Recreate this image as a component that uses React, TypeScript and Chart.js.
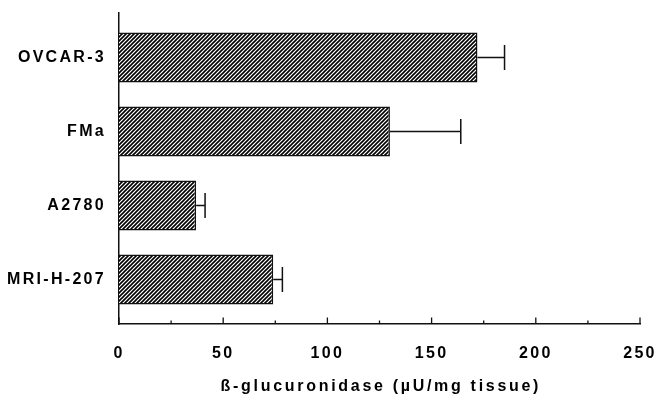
import React, { useEffect, useRef } from 'react';
import { Chart, registerables } from 'chart.js';

Chart.register(...registerables);

const categories = ['OVCAR-3', 'FMa', 'A2780', 'MRI-H-207'];
const values = [172, 130, 37, 74];
const errors = [13, 34, 4.3, 4.4];
const majorTicks = [0, 50, 100, 150, 200, 250];
const minorTicks = [25, 75, 125, 175, 225];
const axisTitle = 'ß-glucuronidase (µU/mg tissue)';

const FONT = "'Liberation Sans', Arial, Helvetica, sans-serif";
const INK = '#111';

function makePattern(ctx: CanvasRenderingContext2D) {
  const c = document.createElement('canvas');
  c.width = 4;
  c.height = 4;
  const g = c.getContext('2d')!;
  g.fillStyle = '#fff';
  g.fillRect(0, 0, 4, 4);
  g.strokeStyle = '#000';
  g.lineWidth = 1.6;
  g.beginPath();
  g.moveTo(-1, 5);
  g.lineTo(5, -1);
  g.moveTo(-1, 1);
  g.lineTo(1, -1);
  g.moveTo(3, 5);
  g.lineTo(5, 3);
  g.stroke();
  return ctx.createPattern(c, 'repeat');
}

const customPlugin = {
  id: 'customDecor',
  beforeDraw(chart: any) {
    (chart.ctx as any).letterSpacing = '2.3px';
  },
  afterDatasetsDraw(chart: any) {
    const ctx = chart.ctx as CanvasRenderingContext2D;
    const xs = chart.scales.x;
    const meta = chart.getDatasetMeta(0);
    ctx.save();
    ctx.strokeStyle = INK;
    ctx.lineWidth = 1.5;
    meta.data.forEach((bar: any, i: number) => {
      const x0 = xs.getPixelForValue(values[i]);
      const x1 = xs.getPixelForValue(values[i] + errors[i]);
      const y = bar.y;
      const h = bar.height / 4;
      ctx.beginPath();
      ctx.moveTo(x0, y);
      ctx.lineTo(x1, y);
      ctx.moveTo(x1, y - h);
      ctx.lineTo(x1, y + h);
      ctx.stroke();
    });
    const yb = chart.chartArea.bottom;
    ctx.lineWidth = 1.3;
    ctx.beginPath();
    majorTicks.forEach((v) => {
      const px = xs.getPixelForValue(v);
      ctx.moveTo(px, yb);
      ctx.lineTo(px, yb - 6.5);
    });
    minorTicks.forEach((v) => {
      const px = xs.getPixelForValue(v);
      ctx.moveTo(px, yb);
      ctx.lineTo(px, yb - 3.5);
    });
    ctx.stroke();
    ctx.restore();
  },
  afterDraw(chart: any) {
    const ctx = chart.ctx as CanvasRenderingContext2D;
    const area = chart.chartArea;
    ctx.save();
    (ctx as any).letterSpacing = '2.7px';
    ctx.font = `bold 16px ${FONT}`;
    ctx.fillStyle = '#000';
    ctx.textAlign = 'center';
    ctx.textBaseline = 'alphabetic';
    ctx.fillText(axisTitle, (area.left + area.right) / 2 + 1.35, 391);
    ctx.restore();
  },
};

export default function App() {
  const ref = useRef<HTMLCanvasElement>(null);

  useEffect(() => {
    const canvas = ref.current!;
    const ctx = canvas.getContext('2d')!;
    const pattern = makePattern(ctx);
    const chart = new Chart(canvas, {
      type: 'bar',
      data: {
        datasets: [
          {
            data: values.map((v, i) => ({ x: v, y: i })),
            backgroundColor: pattern as any,
            borderColor: INK,
            borderWidth: 1.5,
            barPercentage: 0.675,
            categoryPercentage: 1,
          },
        ],
      },
      options: {
        indexAxis: 'y',
        animation: false,
        responsive: false,
        events: [],
        layout: { padding: { top: 13, right: 17, left: 0, bottom: 0 } },
        plugins: { legend: { display: false }, tooltip: { enabled: false } },
        scales: {
          x: {
            type: 'linear',
            min: 0,
            max: 250,
            grid: { display: false },
            border: { display: true, color: INK, width: 1.5 },
            ticks: {
              stepSize: 50,
              padding: 12,
              color: '#000',
              font: { family: FONT, size: 16, weight: 'bold' },
            },
            afterFit: (s: any) => {
              s.height = 75;
              s.paddingLeft = 0;
              s.paddingRight = 0;
            },
          },
          y: {
            type: 'linear',
            reverse: true,
            offset: false,
            bounds: 'data',
            min: -0.6,
            max: 3.6,
            grid: { display: false, offset: false },
            border: { display: true, color: INK, width: 1.5 },
            ticks: {
              padding: 5,
              color: '#000',
              font: { family: FONT, size: 16, weight: 'bold' },
              callback: (v: any) => categories[v as number] ?? '',
            },
            afterBuildTicks: (s: any) => {
              s.ticks = categories.map((_, i) => ({ value: i }));
            },
            afterFit: (s: any) => {
              s.width = 119;
              s.paddingTop = 0;
              s.paddingBottom = 0;
            },
          },
        },
      } as any,
      plugins: [customPlugin],
    });
    return () => chart.destroy();
  }, []);

  return (
    <div style={{ position: 'fixed', left: 0, top: 0, width: 657, height: 399, background: '#fff' }}>
      <canvas ref={ref} width={657} height={399} style={{ display: 'block' }} />
    </div>
  );
}
